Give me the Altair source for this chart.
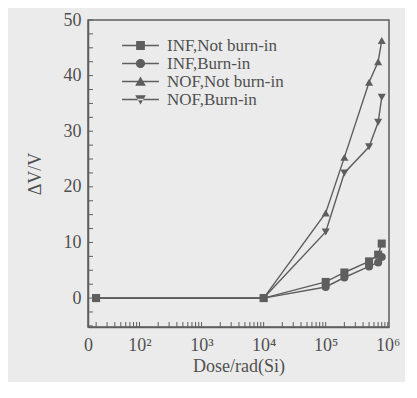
import altair as alt
import pandas as pd

# ---- data ----
doses = [0, 1e4, 1e5, 2e5, 5e5, 7e5, 8e5]
series_names = ["INF,Not burn-in", "INF,Burn-in", "NOF,Not burn-in", "NOF,Burn-in"]
inf_not_burn = [0, 0, 2.9, 4.6, 6.6, 7.8, 9.8]
inf_burn = [0, 0, 2.0, 3.7, 5.7, 6.4, 7.4]
nof_not_burn = [0, 0, 15.3, 25.3, 38.8, 42.5, 46.3]
nof_burn = [0, 0, 11.9, 22.5, 27.2, 31.6, 36.1]
marker_shapes = ["square", "circle", "triangle-up", "triangle-down"]

x_tick_values = [1.17, 2, 3, 4, 5, 6]
x_tick_labels = ["0", "10²", "10³", "10⁴", "10⁵", "10⁶"]
y_tick_labels = [0, 10, 20, 30, 40, 50]
y_minor = [-5 + 2.5 * i for i in range(23)]
x_minor_doses = [m * 10 ** k for k in range(1, 6) for m in range(2, 10) if m * 10 ** k >= 15]
x_major_doses = [1e2, 1e3, 1e4, 1e5, 1e6]

ZERO_POS = 1.3
XDOM = [1.17, 6.02]
YDOM = [-5.2, 50]
GRAY = "#5e5e5e"
TEXT = "#505050"
FONT = "Liberation Serif"
W, H = 301, 307

rows = []
for name, vals in zip(series_names, [inf_not_burn, inf_burn, nof_not_burn, nof_burn]):
    for i, (d, v) in enumerate(zip(doses, vals)):
        rows.append({"series": name, "dose": d, "dv": v, "order": i})
df = pd.DataFrame(rows)

xscale = alt.Scale(domain=XDOM, nice=False, zero=False)
yscale = alt.Scale(domain=YDOM, nice=False, zero=False)

base = alt.Chart(df).transform_calculate(
    xpos=f"datum.dose > 0 ? log(datum.dose)/LN10 : {ZERO_POS}"
)

label_expr = ("[" + ",".join(f"'{t}'" for t in x_tick_labels) + "][indexof(["
              + ",".join(str(v) for v in x_tick_values) + "], datum.value)]")

lines = base.mark_line(color=GRAY, strokeWidth=1.4).encode(
    x=alt.X("xpos:Q", scale=xscale,
            axis=alt.Axis(values=x_tick_values, labelExpr=label_expr, title="Dose/rad(Si)",
                          ticks=False, labelPadding=9, titlePadding=3, labelFlush=False,
                          labelOverlap=False, labelBound=False, grid=False)),
    y=alt.Y("dv:Q", scale=yscale,
            axis=alt.Axis(values=y_tick_labels, title="ΔV/V", ticks=False, labelPadding=7,
                          titlePadding=19, grid=False)),
    detail="series:N",
    order="order:Q",
)

points = base.mark_point(filled=True, color=GRAY, opacity=1, size=65).encode(
    x=alt.X("xpos:Q", scale=xscale),
    y=alt.Y("dv:Q", scale=yscale),
    shape=alt.Shape("series:N", scale=alt.Scale(domain=series_names, range=marker_shapes), legend=None),
)

LINE = "M-4,-0.15H4V0.15H-4Z"
legend_paths = [
    LINE + "M-0.95,-0.95H0.95V0.95H-0.95Z",
    LINE + "M1,0A1,1 0 1,1 -1,0A1,1 0 1,1 1,0Z",
    LINE + "M0,-1.1L1.15,0.9L-1.15,0.9Z",
    LINE + "M0,1.1L1.15,-0.9L-1.15,-0.9Z",
]

legend_layer = base.mark_point(filled=True, color=GRAY, opacity=0, size=85).encode(
    x=alt.X("xpos:Q", scale=xscale),
    y=alt.Y("dv:Q", scale=yscale),
    shape=alt.Shape("series:N", scale=alt.Scale(domain=series_names, range=legend_paths),
                    legend=alt.Legend(title=None, orient="none", legendX=44, legendY=17,
                                      symbolSize=85, symbolOpacity=1, symbolFillColor=GRAY,
                                      labelFont=FONT, labelFontSize=17, labelColor=TEXT,
                                      labelOffset=18, rowPadding=0, padding=0, labelLimit=300)),
)

# inward tick marks
xt_rows = [{"dose": d} for d in x_minor_doses] + [{"dose": d} for d in x_major_doses]
xticks_df = pd.DataFrame(xt_rows)
xticks = alt.Chart(xticks_df).transform_calculate(
    xpos="log(datum.dose)/LN10"
).mark_rule(color=GRAY, strokeWidth=1).encode(
    x=alt.X("xpos:Q", scale=xscale),
    y=alt.value(H),
    y2=alt.value(H - 5),
)

yt_df = pd.DataFrame({"v": y_minor})
yticks = alt.Chart(yt_df).mark_rule(color=GRAY, strokeWidth=1).encode(
    y=alt.Y("v:Q", scale=yscale),
    x=alt.value(0),
    x2=alt.value(5),
)

chart = alt.layer(xticks, yticks, lines, points, legend_layer).resolve_scale(
    shape="independent"
).properties(
    width=W, height=H,
    autosize=alt.AutoSizeParams(type="none"),
    padding={"left": 80, "top": 12, "right": 16, "bottom": 55},
    background="#ebebeb",
).configure_view(
    stroke=GRAY, strokeWidth=1.5
).configure_axis(
    domainColor=GRAY, domainWidth=1.5, labelFont=FONT, titleFont=FONT,
    labelFontSize=18, titleFontSize=18, labelColor=TEXT, titleColor=TEXT,
    titleFontWeight="normal"
)

chart.save("out.html", embed_options={"renderer": "svg", "actions": False})
